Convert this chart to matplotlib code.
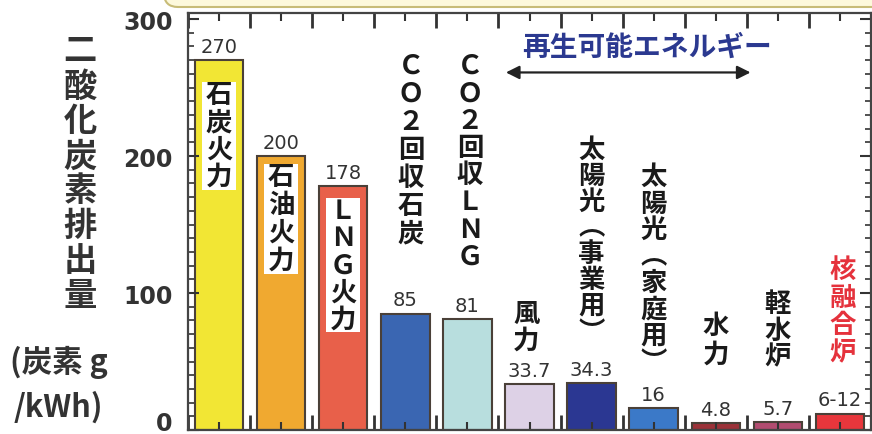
import matplotlib
matplotlib.use("Agg")
import matplotlib.pyplot as plt
import matplotlib.transforms as mtransforms
import numpy as np
from matplotlib.patches import FancyBboxPatch, Rectangle
from matplotlib.ticker import MultipleLocator


plt.rcParams["font.family"] = ["Noto Sans CJK JP", "DejaVu Sans"]

SOURCES = ["石炭火力", "石油火力", "ＬＮＧ火力", "ＣＯ２回収石炭", "ＣＯ２回収ＬＮＧ", "風力",
           "太陽光︵事業用︶", "太陽光︵家庭用︶", "水力", "軽水炉", "核融合炉"]
EMISSIONS = [270, 200, 178, 85, 81, 33.7, 34.3, 16, 4.8, 5.7, 12]
VALUE_LABELS = ["270", "200", "178", "85", "81", "33.7", "34.3", "16", "4.8", "5.7", "6-12"]
BAR_COLORS = ["#f2e634", "#f0a930", "#e8604a", "#3a66b2", "#b8dede", "#ddd1e6",
              "#2b3792", "#3b79c8", "#9c3238", "#b24c70", "#e8363c"]
Y_LABEL = "二酸化炭素排出量"
Y_UNIT = ["(炭素 g", "/kWh)"]
RENEWABLE_LABEL = "再生可能エネルギー"

# vertical category labels: y of first character, spacing and x nudge (data units)
LABEL_TOP = [245, 185, 160, 266, 266, 85, 205, 185, 76, 92, 117]
LABEL_STEP = [20, 20.4, 19.7, 20.4, 19.9, 19.7, 19, 19.3, 20.4, 19, 20]
LABEL_DX = [0, 0, 0, 0.09, 0.04, -0.05, 0, 0, 0, 0, 0.04]
BOXED = [True, True, True] + [False] * 8

W, H = 872, 435
fig = plt.figure(figsize=(W / 100, H / 100), dpi=100)
ax = fig.add_axes([188 / W, 4 / H, 683 / W, 417 / H])

x = np.arange(len(SOURCES))
bars = ax.bar(x, EMISSIONS, width=0.78, color=BAR_COLORS, edgecolor="#4a4038",
              linewidth=1.5, zorder=1)

ax.set_xlim(-0.447, 10.46)
ax.set_ylim(0, 304.4)

for rect, text in zip(bars, VALUE_LABELS):
    ax.annotate(text, (rect.get_x() + rect.get_width() / 2, rect.get_height()),
                xytext=(0, 3), textcoords="offset points", ha="center", va="bottom",
                fontsize=14, color="#333333", family="DejaVu Sans")

# category names written top-to-bottom, one glyph per line
for i, name in enumerate(SOURCES):
    color = "#e5323c" if name == "核融合炉" else "#1a1a1a"
    top, step, xc = LABEL_TOP[i], LABEL_STEP[i], i + LABEL_DX[i]
    if BOXED[i]:
        y0 = top - step * (len(name) - 1) - 10
        ax.add_patch(Rectangle((i - 0.27, y0), 0.54, top + 9 - y0,
                               facecolor="white", edgecolor="none", zorder=2))
    for k, ch in enumerate(name):
        ax.text(xc, top - k * step, ch, ha="center", va="center", fontsize=19,
                fontweight="bold", color=color, zorder=3)

# renewable energy range
ax.annotate("", xy=(8.56, 261), xytext=(4.62, 261),
            arrowprops=dict(arrowstyle="<|-|>", color="#222222", lw=1.6,
                            mutation_scale=20, shrinkA=0, shrinkB=0))
ax.text(6.9, 280, RENEWABLE_LABEL, ha="center", va="center", fontsize=20,
        fontweight="bold", color="#2b3990")

# axes styling: ruler-like ticks on all four sides
for side in ax.spines.values():
    side.set_color("#444444")
    side.set_linewidth(1.6)

ax.set_xticks(x)
ax.set_xticks(np.arange(-0.5, 11, 1), minor=True)
ax.tick_params(axis="x", which="major", direction="in", length=6, width=1.5,
               top=True, bottom=True, labelbottom=False, color="#333333")
ax.tick_params(axis="x", which="minor", direction="in", length=11, width=2,
               top=True, bottom=True, color="#333333")

ax.yaxis.set_major_locator(MultipleLocator(100))
ax.yaxis.set_minor_locator(MultipleLocator(10))
ax.tick_params(axis="y", which="major", direction="in", length=8, width=1.5,
               left=True, right=True, color="#333333", pad=11)
ax.tick_params(axis="y", which="minor", direction="in", length=4, width=1.2,
               left=True, right=True, color="#333333")
fig.canvas.draw()
for lbl in ax.get_yticklabels():
    lbl.set_fontsize(17)
    lbl.set_fontweight("bold")
    lbl.set_family("DejaVu Sans")
    lbl.set_color("#333333")
    if lbl.get_text() == "0":
        # lift the bottom label so it sits inside the figure
        lbl.set_transform(lbl.get_transform() +
                          mtransforms.ScaledTranslation(0, 7 / 72, fig.dpi_scale_trans))

# stacked y-axis title
for k, ch in enumerate(Y_LABEL):
    fig.text(80 / W, 1 - (52 + 35 * k) / H, ch, ha="center", va="center",
             fontsize=24, fontweight="bold", color="#333333")
fig.text(10 / W, 1 - 362 / H, Y_UNIT[0], ha="left", va="center",
         fontsize=22, fontweight="bold", color="#333333")
fig.text(14 / W, 1 - 407 / H, Y_UNIT[1], ha="left", va="center",
         fontsize=22, fontweight="bold", color="#333333")

# title panel running off the top edge
fig.add_artist(FancyBboxPatch((1.64, 4.27), 7.6, 0.6,
                              boxstyle="round,pad=0,rounding_size=0.14",
                              transform=fig.dpi_scale_trans, facecolor="#fdf9dc",
                              edgecolor="#c8bc78", linewidth=1.5))

fig.savefig("out.png", dpi=100)
